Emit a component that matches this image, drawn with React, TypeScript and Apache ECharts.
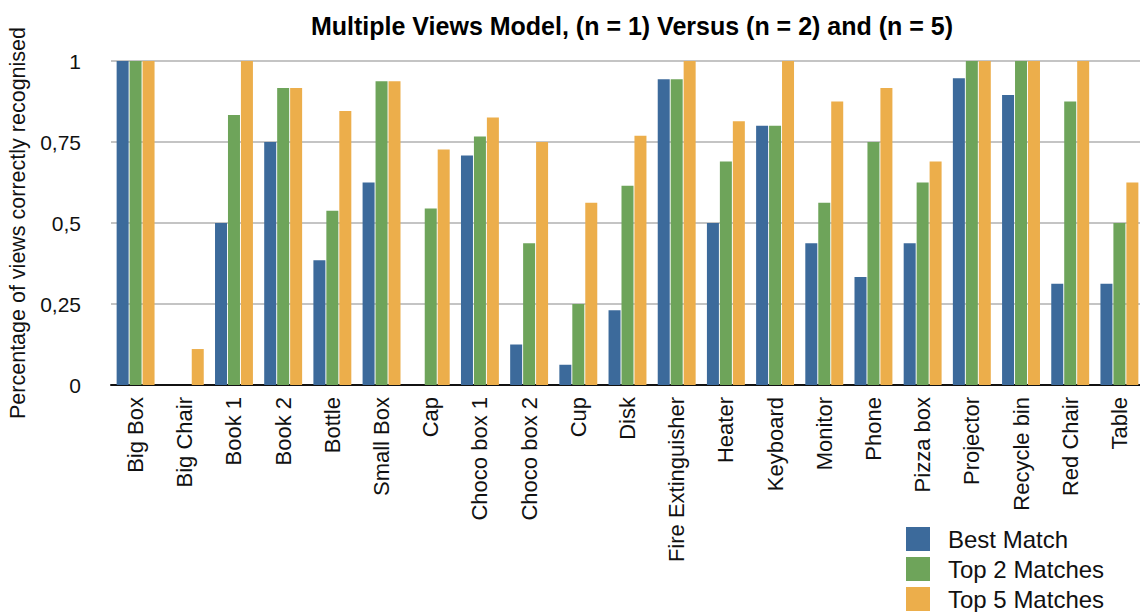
import React, { useEffect, useRef } from "react";
import * as echarts from "echarts";

const categories = [
  "Big Box", "Big Chair", "Book 1", "Book 2", "Bottle", "Small Box", "Cap",
  "Choco box 1", "Choco box 2", "Cup", "Disk", "Fire Extinguisher", "Heater",
  "Keyboard", "Monitor", "Phone", "Pizza box", "Projector", "Recycle bin",
  "Red Chair", "Table",
];

const bestMatch = [
  1, 0, 0.5, 0.75, 0.385, 0.625, 0, 0.708, 0.125, 0.0625, 0.231, 0.944, 0.5,
  0.8, 0.4375, 0.333, 0.4375, 0.947, 0.895, 0.3125, 0.3125,
];
const top2Matches = [
  1, 0, 0.833, 0.917, 0.538, 0.9375, 0.545, 0.767, 0.4375, 0.25, 0.615, 0.944,
  0.69, 0.8, 0.5625, 0.75, 0.625, 1, 1, 0.875, 0.5,
];
const top5Matches = [
  1, 0.111, 1, 0.917, 0.846, 0.9375, 0.727, 0.826, 0.75, 0.5625, 0.769, 1,
  0.814, 1, 0.875, 0.917, 0.69, 1, 1, 1, 0.625,
];

const seriesNames = ["Best Match", "Top 2 Matches", "Top 5 Matches"];
const colors = ["#3C6A9B", "#6EA45A", "#ECAE4B"];

const FONT = "'Liberation Sans', Arial, Helvetica, sans-serif";

export default function App() {
  const ref = useRef<HTMLDivElement>(null);

  useEffect(() => {
    if (!ref.current) return;
    const chart = echarts.init(ref.current, undefined, { renderer: "svg" });
    const values = [bestMatch, top2Matches, top5Matches];
    chart.setOption({
      animation: false,
      backgroundColor: "#ffffff",
      textStyle: { fontFamily: FONT },
      title: {
        text: "Multiple Views Model, (n = 1) Versus (n = 2) and (n = 5)",
        left: 627,
        textAlign: "center",
        top: 8,
        textStyle: {
          fontFamily: FONT,
          fontSize: 25,
          fontWeight: "bold",
          color: "#000",
        },
      },
      legend: {
        orient: "vertical",
        left: 906,
        top: 527,
        height: 86,
        padding: 0,
        itemWidth: 24,
        itemHeight: 24,
        itemGap: 6,
        icon: "rect",
        data: seriesNames,
        textStyle: {
          fontFamily: FONT,
          fontSize: 24,
          lineHeight: 24,
          color: "#111",
          padding: [0, 0, 0, 13],
        },
      },
      grid: {
        left: 111,
        top: 61,
        width: 1033,
        height: 324,
        outerBoundsMode: "none",
      },
      xAxis: {
        type: "category",
        data: categories,
        axisTick: { show: false },
        axisLine: { lineStyle: { color: "#111", width: 2 } },
        axisLabel: {
          rotate: 90,
          interval: 0,
          margin: 12,
          fontFamily: FONT,
          fontSize: 22,
          color: "#111",
        },
      },
      yAxis: {
        type: "value",
        min: 0,
        max: 1,
        interval: 0.25,
        name: "Percentage of views correctly recognised",
        nameLocation: "middle",
        nameRotate: 90,
        nameGap: 79,
        nameTextStyle: { fontFamily: FONT, fontSize: 21.5, color: "#111" },
        axisLine: { show: false },
        axisTick: { show: false },
        axisLabel: {
          margin: 30,
          fontFamily: FONT,
          fontSize: 21,
          color: "#111",
          formatter: (v: number) => String(v).replace(".", ","),
        },
        splitLine: { lineStyle: { color: "#c4c4c4", width: 2 } },
      },
      series: seriesNames.map((name, i) => ({
        name,
        type: "bar",
        data: values[i],
        barWidth: 12,
        barGap: "8%",
        itemStyle: { color: colors[i] },
      })),
    });
    return () => chart.dispose();
  }, []);

  return (
    <div
      ref={ref}
      style={{ position: "fixed", left: 0, top: 0, width: 1140, height: 612 }}
    />
  );
}
